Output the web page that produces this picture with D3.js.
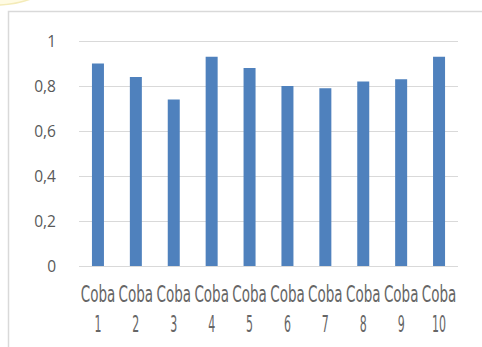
<!DOCTYPE html>
<html><head><meta charset="utf-8">
<script src="https://cdn.jsdelivr.net/npm/d3@7"></script>
<style>html,body{margin:0;padding:0;background:#fff;}svg{display:block;}</style>
</head><body>
<svg id="c" width="482" height="347"></svg>
<script>
const categories = ["Coba 1","Coba 2","Coba 3","Coba 4","Coba 5","Coba 6","Coba 7","Coba 8","Coba 9","Coba 10"];
const values = [0.90,0.84,0.74,0.93,0.88,0.80,0.79,0.82,0.83,0.93];
const yTicks = [0,0.2,0.4,0.6,0.8,1];
const yTickLabels = ["0","0,2","0,4","0,6","0,8","1"];

const svg = d3.select("#c");
// decorative pale blob top-left
svg.append("ellipse").attr("cx",-5).attr("cy",-42).attr("rx",72).attr("ry",47)
  .attr("fill","#fffbe3").attr("stroke","#f4ebb8").attr("stroke-width",1.5);
// chart frame
svg.append("rect").attr("x",8.5).attr("y",11.5).attr("width",500).attr("height",400)
  .attr("fill","#fff").attr("stroke","#d9d9d9").attr("stroke-width",1.5);

const x = d3.scaleBand().domain(categories).range([79,458]);
const y = d3.scaleLinear().domain([0,1]).range([266,41]);

const g = svg.append("g");
g.selectAll("line.grid").data(yTicks).join("line")
  .attr("x1",79).attr("x2",458)
  .attr("y1",d=>Math.round(y(d))+0.5).attr("y2",d=>Math.round(y(d))+0.5)
  .attr("stroke","#d9d9d9").attr("stroke-width",1);

g.selectAll("text.yl").data(yTicks).join("text")
  .attr("x",56).attr("y",d=>y(d)).attr("dy","0.36em")
  .attr("text-anchor","end")
  .attr("font-family","'Open Sans', 'Liberation Sans', sans-serif")
  .attr("font-size",15.5).attr("fill","#595959")
  .text((d,i)=>yTickLabels[i]);

const bw = 12;
g.selectAll("rect.bar").data(values).join("rect")
  .attr("x",(d,i)=>x(categories[i])+x.bandwidth()/2-bw/2)
  .attr("width",bw)
  .attr("y",d=>y(d)).attr("height",d=>y(0)-y(d))
  .attr("fill","#4f81bd");

const font = "'Liberation Sans Narrow','DejaVu Sans Condensed',sans-serif";
const lab = g.selectAll("g.xl").data(categories).join("g")
  .attr("transform",d=>`translate(${x(d)+x.bandwidth()/2},0)`);
lab.append("text")
  .attr("transform","translate(0,302) scale(1,1.25)")
  .attr("text-anchor","middle")
  .attr("font-family",font)
  .attr("font-size",18).attr("fill","#666")
  .attr("textLength",34.5).attr("lengthAdjust","spacingAndGlyphs")
  .text(d=>d.split(" ")[0]);
lab.append("text")
  .attr("transform","translate(0,332) scale(1,1.25)")
  .attr("text-anchor","middle")
  .attr("font-family",font)
  .attr("font-size",18).attr("fill","#666")
  .attr("textLength",d=>d.split(" ")[1].length*7).attr("lengthAdjust","spacingAndGlyphs")
  .text(d=>d.split(" ")[1]);
</script>
</body></html>
